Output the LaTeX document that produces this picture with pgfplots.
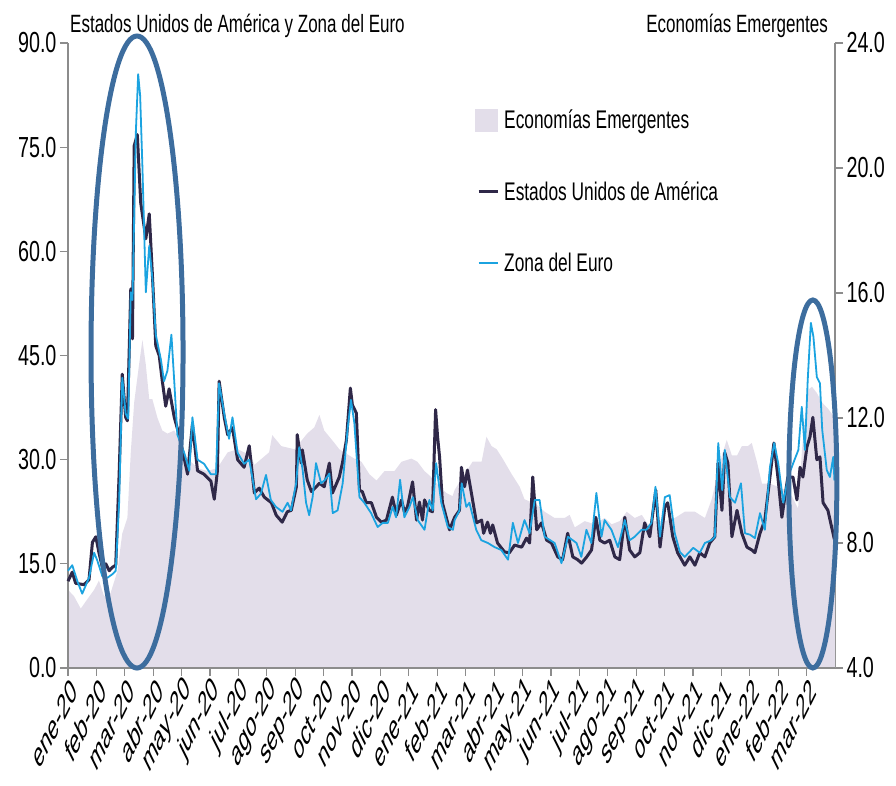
\documentclass[border=0pt]{standalone}
\usepackage{fontspec}
\setmainfont{Liberation Sans}[FakeStretch=0.68]
\newfontfamily\xlabfont{Liberation Sans}
\usepackage{pgfplots}
\pgfplotsset{compat=1.18}
\usepackage{pgfplotstable}
\definecolor{lav}{RGB}{227,222,234}
\definecolor{usa}{RGB}{47,40,72}
\definecolor{euro}{RGB}{27,163,224}
\definecolor{ell}{RGB}{61,109,158}
\definecolor{axgray}{RGB}{140,140,140}

\pgfplotstableread{
m v
0.00 6.5
0.21 6.3
0.45 5.9
0.68 6.2
0.92 6.5
1.09 6.8
1.27 6.3
1.50 6.4
1.74 7.1
1.91 8.3
2.09 8.8
2.21 10.9
2.33 12.5
2.50 13.7
2.62 14.5
2.74 13.7
2.86 12.6
2.97 12.6
3.15 12.0
3.32 11.6
3.50 11.5
3.74 11.6
3.91 11.3
4.21 10.7
4.56 10.4
4.91 10.3
5.26 10.4
5.62 10.9
5.97 11.0
6.44 10.8
6.56 10.5
7.08 10.9
7.19 11.45
7.51 11.1
7.97 11.0
8.42 11.5
8.67 11.7
8.85 12.1
9.02 11.6
9.38 11.2
9.55 11.0
10.08 10.7
10.33 10.6
10.61 10.2
10.86 10.0
11.14 10.3
11.49 10.3
11.74 10.6
12.09 10.7
12.30 10.6
12.55 10.3
12.80 10.1
13.08 9.8
13.32 9.6
13.54 9.5
13.61 9.7
13.96 10.2
14.24 10.6
14.56 10.6
14.73 11.4
14.91 11.1
15.09 11.0
15.30 10.7
15.62 10.2
15.90 9.8
16.07 9.4
16.32 9.3
16.53 9.2
16.78 9.0
17.13 8.8
17.48 8.8
17.66 8.9
17.84 8.5
18.19 8.7
18.54 8.6
18.89 8.8
19.14 8.6
19.42 8.7
19.67 9.0
19.95 8.8
20.20 8.9
20.41 8.6
20.66 8.7
21.01 8.7
21.36 8.8
21.71 9.0
22.07 9.0
22.42 8.8
22.66 9.4
22.84 10.1
23.02 10.8
23.19 11.3
23.37 10.8
23.55 10.8
23.72 11.1
23.93 11.1
24.07 11.2
24.25 10.6
24.43 9.9
24.71 9.9
24.99 9.8
25.24 9.7
25.48 9.5
25.70 9.1
25.84 11.0
25.94 12.0
26.05 12.9
26.19 13.0
26.36 12.8
26.54 12.5
26.75 12.3
27.00 12.0
}\emdata

\pgfplotstableread{
m v
0.00 12.5
0.15 13.8
0.27 12.2
0.56 12.0
0.74 12.7
0.86 18.1
0.98 18.9
1.09 16.6
1.21 14.5
1.33 15.0
1.45 14.0
1.56 14.5
1.68 14.8
1.80 27.9
1.91 42.3
2.03 36.1
2.09 35.6
2.15 45.0
2.21 54.6
2.27 47.4
2.33 75.2
2.44 76.8
2.56 67.0
2.74 61.8
2.86 65.4
2.97 56.7
3.09 46.4
3.21 45.0
3.32 41.3
3.44 37.7
3.56 40.2
3.74 36.1
3.91 33.6
4.21 27.9
4.38 35.1
4.56 28.4
4.79 27.9
5.03 26.9
5.15 24.3
5.26 28.4
5.32 41.3
5.50 36.1
5.62 33.6
5.79 34.6
5.97 30.0
6.20 28.9
6.38 32.0
6.56 25.2
6.73 25.9
6.91 24.6
7.16 23.8
7.33 22.0
7.54 21.0
7.72 22.5
7.86 22.7
8.04 26.1
8.07 33.6
8.21 29.5
8.25 31.4
8.42 27.1
8.57 25.4
8.74 26.1
8.85 26.6
9.02 26.1
9.20 29.5
9.31 25.2
9.55 27.5
9.66 29.5
9.80 32.8
9.94 40.3
10.01 37.9
10.15 36.7
10.26 25.6
10.36 25.4
10.50 23.8
10.68 23.8
10.86 21.7
11.03 21.0
11.21 21.3
11.42 24.6
11.56 22.0
11.74 24.2
11.84 22.5
11.95 23.2
12.13 26.8
12.27 21.3
12.37 23.9
12.48 21.3
12.55 24.2
12.72 22.7
12.83 22.5
12.94 37.2
13.01 33.3
13.08 30.4
13.18 23.8
13.43 19.9
13.61 21.7
13.78 22.7
13.85 28.9
13.96 26.1
14.06 28.5
14.20 25.2
14.38 20.9
14.56 21.3
14.63 19.4
14.77 21.0
14.87 19.4
14.95 20.6
15.12 18.0
15.37 16.7
15.54 16.6
15.72 17.7
15.97 17.4
16.14 18.7
16.25 18.0
16.36 27.5
16.50 19.9
16.67 20.9
16.85 18.4
17.02 18.0
17.24 16.0
17.41 15.6
17.59 19.4
17.77 16.0
17.94 15.6
18.08 15.1
18.26 16.0
18.43 17.0
18.58 21.7
18.72 18.4
18.89 18.0
19.07 18.4
19.25 16.0
19.42 15.6
19.60 21.7
19.77 17.0
19.95 16.0
20.13 16.6
20.30 20.9
20.48 18.9
20.69 25.6
20.84 17.4
21.01 23.2
21.11 23.8
21.29 18.9
21.46 16.6
21.71 14.8
21.89 16.0
22.07 14.8
22.24 16.6
22.42 16.0
22.59 18.0
22.77 18.9
22.88 29.5
23.02 22.7
23.12 31.0
23.23 29.5
23.37 18.9
23.55 22.7
23.72 19.4
23.90 17.4
24.07 17.0
24.18 16.6
24.36 19.4
24.53 21.3
24.71 27.5
24.85 32.4
24.99 27.5
25.13 21.7
25.34 27.5
25.52 27.5
25.66 24.2
25.77 28.9
25.87 27.5
26.01 31.8
26.12 33.3
26.22 36.1
26.36 30.0
26.47 30.4
26.58 23.8
26.75 22.7
26.93 19.4
26.98 18.5
}\usdata

\pgfplotstableread{
m v
0.00 14.0
0.15 14.8
0.33 12.5
0.50 10.7
0.74 13.0
0.92 16.6
1.03 15.5
1.21 13.2
1.39 13.0
1.56 13.5
1.68 14.0
1.80 23.8
1.91 41.8
2.03 36.6
2.12 35.9
2.21 54.1
2.27 53.0
2.39 77.3
2.47 85.5
2.54 82.4
2.62 72.1
2.74 54.1
2.86 60.8
2.97 56.1
3.09 48.0
3.27 44.4
3.38 41.3
3.50 42.8
3.64 48.0
3.74 41.3
3.85 33.6
4.09 31.0
4.27 28.4
4.38 36.1
4.56 30.0
4.79 29.4
5.03 27.9
5.21 27.9
5.32 41.0
5.50 36.6
5.67 33.0
5.79 36.1
5.97 31.0
6.20 29.4
6.38 30.0
6.62 24.3
6.79 25.1
6.97 27.8
7.14 24.2
7.32 23.2
7.55 22.5
7.73 23.8
7.85 22.7
8.03 26.6
8.14 31.8
8.26 28.5
8.38 23.8
8.49 22.0
8.61 24.6
8.73 29.5
8.91 26.6
9.05 27.1
9.20 28.0
9.32 22.3
9.49 22.7
9.67 26.6
9.84 34.3
9.96 38.6
10.08 35.3
10.26 24.6
10.43 23.8
10.67 22.3
10.90 20.3
11.08 20.9
11.26 20.9
11.43 23.2
11.55 21.7
11.69 27.1
11.84 21.7
12.02 23.2
12.14 24.6
12.31 21.3
12.55 19.9
12.72 24.2
12.84 22.7
12.96 29.5
13.14 23.8
13.37 20.3
13.55 19.9
13.61 21.3
13.78 22.7
13.86 26.6
14.02 23.2
14.13 23.8
14.37 19.9
14.55 18.4
14.78 18.0
15.02 17.4
15.25 17.0
15.49 15.6
15.66 20.9
15.84 18.0
16.07 21.3
16.25 19.4
16.43 24.2
16.60 24.2
16.78 18.9
17.13 18.0
17.37 15.1
17.60 18.9
17.90 18.0
18.07 16.0
18.25 19.9
18.42 18.0
18.60 25.2
18.78 18.9
18.89 21.3
19.13 19.9
19.36 17.4
19.60 21.3
19.77 18.4
19.95 18.9
20.19 19.9
20.36 19.9
20.54 20.9
20.68 26.1
20.84 18.9
21.01 24.6
21.18 24.9
21.36 19.4
21.54 16.7
21.71 16.0
22.01 17.3
22.24 16.6
22.42 18.0
22.65 18.4
22.77 18.9
22.89 32.4
23.03 25.6
23.12 31.4
23.30 24.6
23.48 23.8
23.69 26.6
23.83 19.4
24.01 19.2
24.18 18.7
24.36 22.3
24.53 19.9
24.71 28.9
24.86 32.4
25.00 29.5
25.18 23.8
25.35 27.5
25.53 29.5
25.71 31.4
25.83 37.6
25.94 31.4
26.04 41.5
26.15 49.7
26.24 47.7
26.36 41.9
26.47 41.0
26.55 34.3
26.71 28.5
26.82 27.5
26.94 30.4
26.98 27.0
}\eudata

\begin{document}
\begin{tikzpicture}
\pgfplotsset{
  common/.style={
    at={(0pt,0pt)}, anchor=south west,
    width=767pt, height=625pt, scale only axis,
    xmin=0, xmax=27,
    tick align=outside,
    major tick length=8pt,
    axis line style={draw=axgray, line width=1.2pt},
    major tick style={draw=axgray, line width=1.2pt},
    /pgf/number format/assume math mode=true,
    yticklabel style={/pgf/number format/fixed, /pgf/number format/fixed zerofill, /pgf/number format/precision=1,
      font=\fontsize{29}{31}\selectfont},
  }
}
% right axis: Economias Emergentes
\begin{axis}[common,
  ymin=4, ymax=24,
  axis x line=none,
  axis y line*=right,
  ytick={4,8,12,16,20,24},
]
\addplot[fill=lav, draw=none] table[x=m, y=v] {\emdata} \closedcycle;
\end{axis}
% left axis
\begin{axis}[common,
  ymin=0, ymax=90,
  axis x line*=bottom,
  axis y line*=left,
  clip=false,
  ytick={0,15,30,45,60,75,90},
  xtick={0,...,26},
  xticklabels={ene-20,feb-20,mar-20,abr-20,may-20,jun-20,jul-20,ago-20,sep-20,oct-20,nov-20,dic-20,ene-21,feb-21,mar-21,abr-21,may-21,jun-21,jul-21,ago-21,sep-21,oct-21,nov-21,dic-21,ene-22,feb-22,mar-22},
  xticklabel style={anchor=east, cm={0.54,1.08,-0.54,1.08,(0,0)}, font=\xlabfont\fontsize{23}{25}\selectfont, inner sep=1pt, yshift=-10pt, xshift=3pt},
  legend style={draw=none, fill=none, at={(0.531,0.896)}, anchor=north west,
    font=\fontsize{25.5}{28}\selectfont, row sep=47pt, inner sep=0pt,
    nodes={inner ysep=2pt, inner xsep=5pt, anchor=west}},
  legend cell align=left,
]
\addlegendimage{legend image code/.code={\fill[lav] (0pt,-11pt) rectangle (22pt,11pt);}}
\addlegendentry{Economías Emergentes}
\addplot[draw=usa, line width=3pt, line join=round,
  legend image code/.code={\draw[usa, line width=3pt] (3pt,0pt) -- (22pt,0pt);}]
  table[x=m, y=v] {\usdata};
\addlegendentry{Estados Unidos de América}
\addplot[draw=euro, line width=1.8pt, line join=round,
  legend image code/.code={\draw[euro, line width=1.8pt] (3pt,0pt) -- (22pt,0pt);}]
  table[x=m, y=v] {\eudata};
\addlegendentry{Zona del Euro}
\draw[ell, line width=5pt] (axis cs:2.43,45.5) ellipse [x radius=46pt, y radius=316pt];
\draw[ell, line width=5pt] (axis cs:26.22,26.5) ellipse [x radius=24pt, y radius=184pt];
\end{axis}
\node[anchor=base west, font=\fontsize{25}{27}\selectfont, inner sep=0pt] at (2pt,635pt) {Estados Unidos de América y Zona del Euro};
\node[anchor=base east, font=\fontsize{25}{27}\selectfont, inner sep=0pt] at (760pt,635pt) {Economías Emergentes};
\pgfresetboundingbox
\path[use as bounding box] (-68pt,-118pt) rectangle (828pt,668pt);
\end{tikzpicture}
\end{document}
